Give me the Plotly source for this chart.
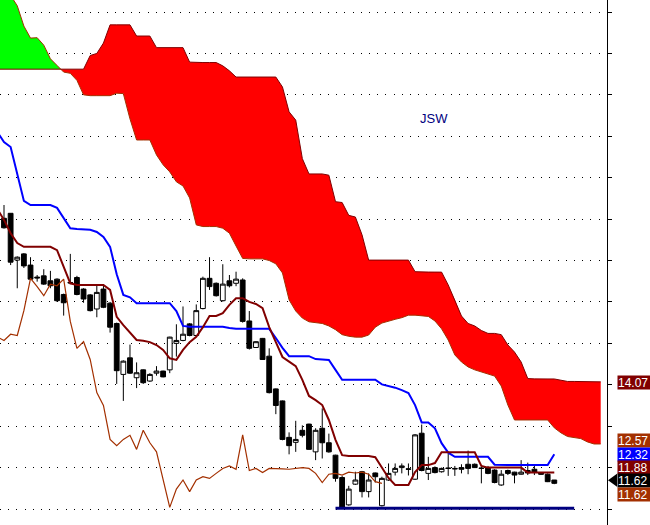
import plotly.graph_objects as go

# ---------------- data ----------------
title_text = "JSW"

# candles, bar index 0..83
open_ = [18.02, 18.14, 17.01, 17.16, 16.89, 16.60, 16.63, 16.51, 16.55, 16.18,
         16.47, 16.59, 16.31, 16.17, 15.83, 16.31, 15.97, 15.48, 14.25, 14.65,
         14.17, 14.36, 14.09, 14.28, 14.33, 14.36, 15.00, 15.07, 15.47, 15.19,
         15.84, 16.57, 16.45, 16.03, 16.51, 16.45, 16.53, 15.54, 14.90, 15.12,
         14.69, 13.90, 13.61, 12.73, 12.61, 12.90, 13.05, 12.38, 12.95, 12.60,
         12.30, 11.76, 11.10, 11.60, 11.90, 11.42, 11.87, 11.08, 11.70, 11.89,
         12.00, 11.97, 11.72, 12.83, 11.86, 12.00, 11.90, 11.99, 11.98, 12.00,
         12.08, 12.08, 11.99, 12.00, 11.94, 11.58, 11.93, 11.89, 11.84, 11.93,
         11.96, 11.87, 11.84, 11.70]
high = [18.34, 18.14, 17.10, 17.18, 17.08, 16.65, 16.79, 16.75, 16.57, 16.20,
        17.16, 16.63, 16.33, 16.19, 16.43, 16.43, 16.00, 15.50, 14.59, 14.97,
        14.54, 14.37, 14.28, 14.45, 14.34, 15.16, 15.46, 15.89, 15.49, 15.94,
        16.61, 17.08, 16.47, 16.91, 16.65, 16.73, 16.57, 15.78, 15.05, 15.13,
        14.88, 13.91, 13.62, 12.85, 13.13, 13.02, 13.06, 12.95, 13.43, 12.82,
        12.31, 11.80, 11.56, 11.90, 11.92, 11.86, 11.88, 11.78, 12.10, 12.10,
        12.10, 12.10, 12.81, 13.04, 12.26, 12.03, 12.00, 12.34, 12.04, 12.08,
        12.41, 12.10, 12.02, 12.04, 11.96, 11.94, 11.95, 11.90, 12.18, 12.12,
        12.04, 11.88, 11.86, 11.70]
low = [17.77, 16.89, 16.33, 16.82, 16.53, 16.49, 16.41, 16.33, 16.00, 15.67,
       16.43, 16.16, 15.98, 15.77, 15.63, 15.85, 15.26, 14.02, 13.61, 14.26,
       13.92, 14.02, 14.07, 14.22, 14.18, 14.28, 14.68, 15.05, 15.17, 15.17,
       15.82, 16.29, 16.13, 16.01, 16.35, 16.38, 15.50, 14.85, 14.89, 14.60,
       13.79, 13.29, 12.66, 12.32, 12.38, 12.73, 12.43, 12.18, 12.22, 12.36,
       11.66, 11.02, 11.08, 11.58, 11.28, 11.28, 11.64, 11.06, 11.68, 11.81,
       11.86, 11.81, 11.70, 11.91, 11.70, 11.86, 11.88, 11.80, 11.80, 11.86,
       11.84, 11.99, 11.62, 11.84, 11.62, 11.56, 11.82, 11.62, 11.83, 11.82,
       11.82, 11.83, 11.65, 11.60]
close = [17.79, 16.96, 17.08, 16.87, 16.55, 16.58, 16.43, 16.39, 16.03, 15.98,
         16.46, 16.18, 16.07, 15.79, 16.23, 15.87, 15.39, 14.34, 14.57, 14.28,
         14.29, 14.05, 14.25, 14.33, 14.19, 15.15, 15.07, 15.22, 15.19, 15.79,
         16.57, 16.37, 16.15, 16.43, 16.39, 16.55, 15.53, 14.88, 15.04, 14.61,
         13.81, 13.50, 12.68, 12.53, 12.68, 12.78, 12.44, 12.90, 12.60, 12.38,
         11.74, 11.04, 11.48, 11.70, 11.42, 11.70, 11.78, 11.74, 11.86, 11.98,
         12.04, 11.96, 12.79, 11.93, 11.98, 11.88, 11.98, 11.98, 11.97, 11.96,
         11.98, 12.00, 11.98, 11.86, 11.64, 11.84, 11.86, 11.82, 11.89, 11.87,
         11.89, 11.84, 11.66, 11.62]

# conversion line (dark red), bar index -1..83
tenkan = [18.24, 17.98, 17.66, 17.42, 17.33, 17.33, 17.33, 17.33, 17.33, 17.25,
          16.87, 16.45, 16.41, 16.41, 16.41, 16.41, 16.41, 16.29, 15.64, 15.44,
          15.25, 15.08, 15.06, 15.03, 14.96, 14.84, 14.64, 14.60, 14.84, 15.03,
          15.16, 15.39, 15.66, 15.66, 15.73, 15.93, 16.09, 16.09, 16.00, 15.95,
          15.85, 15.39, 15.03, 14.67, 14.56, 14.45, 14.12, 13.73, 13.63, 13.51,
          13.15, 12.67, 12.30, 12.28, 12.28, 12.28, 12.28, 12.25, 11.99, 11.75,
          11.58, 11.58, 11.58, 11.89, 12.06, 12.06, 12.11, 12.37, 12.37, 12.37,
          12.37, 12.37, 12.37, 12.04, 12.00, 12.00, 12.00, 12.00, 12.00, 12.00,
          11.88, 11.88, 11.88, 11.88, 11.88]

# base line (blue), bar index -1..83
kijun = [20.10, 19.86, 19.74, 19.06, 18.44, 18.34, 18.34, 18.34, 18.34, 18.27,
         18.03, 17.78, 17.76, 17.75, 17.74, 17.69, 17.57, 17.33, 16.67, 16.17,
         16.11, 15.97, 15.97, 15.97, 15.97, 15.97, 15.97, 15.78, 15.42, 15.40,
         15.40, 15.40, 15.40, 15.40, 15.40, 15.37, 15.35, 15.35, 15.35, 15.35,
         15.35, 15.35, 15.13, 14.89, 14.69, 14.69, 14.69, 14.69, 14.62, 14.61,
         14.60, 14.36, 14.12, 14.12, 14.12, 14.12, 14.12, 14.12, 14.01, 13.97,
         13.93, 13.87, 13.80, 13.51, 13.09, 13.09, 12.95, 12.59, 12.36, 12.26,
         12.26, 12.26, 12.26, 12.26, 12.26, 12.07, 12.06, 12.06, 12.06, 12.06,
         12.06, 12.06, 12.06, 12.06, 12.32]

# leading span A, bar index -1..90
span_a = [23.80, 23.60, 23.40, 23.15, 22.66, 22.37, 22.38, 22.20, 21.87, 21.71,
          21.55, 21.52, 21.35, 21.00, 20.98, 20.98, 20.98, 20.98, 21.04, 21.03,
          20.42, 19.91, 19.91, 19.91, 19.55, 19.31, 19.14, 18.90, 18.80, 18.51,
          17.86, 17.82, 17.82, 17.82, 17.78, 17.66, 17.35, 17.05, 17.04, 17.04,
          17.04, 17.00, 16.92, 16.70, 16.05, 15.78, 15.61, 15.52, 15.50, 15.48,
          15.42, 15.33, 15.21, 15.17, 15.15, 15.15, 15.20, 15.39, 15.49, 15.54,
          15.58, 15.62, 15.68, 15.68, 15.67, 15.65, 15.54, 15.35, 15.08, 14.72,
          14.55, 14.43, 14.36, 14.31, 14.26, 14.21, 13.97, 13.51, 13.15, 13.15,
          13.15, 13.15, 13.15, 13.15, 12.96, 12.84, 12.75, 12.73, 12.70, 12.62,
          12.57, 12.57]

# leading span B, bar index -1..90
span_b = [21.62, 21.62, 21.62, 21.62, 21.62, 21.62, 21.62, 21.62, 21.62, 21.62,
          21.62, 21.62, 21.62, 21.62, 21.95, 22.00, 22.25, 22.69, 22.69, 22.69,
          22.69, 22.42, 22.42, 22.42, 22.14, 22.14, 22.14, 22.14, 22.14, 21.79,
          21.78, 21.78, 21.78, 21.78, 21.70, 21.58, 21.43, 21.43, 21.43, 21.43,
          21.43, 21.43, 21.43, 21.19, 20.59, 20.39, 19.46, 19.09, 19.09, 19.09,
          19.06, 18.42, 18.40, 18.09, 18.05, 17.62, 17.01, 17.01, 17.01, 17.01,
          17.01, 17.01, 17.01, 16.73, 16.72, 16.72, 16.72, 16.72, 16.41, 16.05,
          15.66, 15.48, 15.42, 15.31, 15.24, 15.24, 15.21, 14.96, 14.79, 14.55,
          14.15, 14.14, 14.14, 14.14, 14.14, 14.11, 14.08, 14.08, 14.08, 14.07,
          14.07, 14.07]

# lagging span (brown), bar index -1..57
chikou = [15.15, 15.07, 15.22, 15.19, 15.79, 16.57, 16.37, 16.15, 16.43, 16.39,
          16.55, 15.53, 14.88, 15.04, 14.61, 13.81, 13.50, 12.68, 12.53, 12.68,
          12.78, 12.44, 12.90, 12.60, 12.38, 11.74, 11.04, 11.48, 11.70, 11.42,
          11.70, 11.78, 11.74, 11.86, 11.98, 12.04, 11.96, 12.79, 11.93, 11.98,
          11.88, 11.98, 11.98, 11.97, 11.96, 11.98, 12.00, 11.98, 11.86, 11.64,
          11.84, 11.86, 11.82, 11.89, 11.87, 11.89, 11.84, 11.66, 11.62]

support_level = 11.02
support_bars = [50, 86]

grid_levels = list(range(11, 24))

# ---------------- styling ----------------
C_TENKAN = "#800000"
C_KIJUN = "#0000FF"
C_CHIKOU = "#A33000"
C_SPAN_A = "#A33000"
C_SPAN_B = "#800000"
FONT = "Liberation Sans, Arial, sans-serif"

bars_candle = list(range(len(close)))
bars_line = list(range(-1, len(tenkan) - 1))
bars_cloud = list(range(-1, len(span_a) - 1))
bars_chikou = list(range(-1, len(chikou) - 1))

fig = go.Figure()

# cloud polygons, split where the spans cross
def cloud_segments(xs, a, b):
    segs = []
    sign = a[0] >= b[0]
    cx, ca, cb = [xs[0]], [a[0]], [b[0]]
    for k in range(1, len(xs)):
        s = a[k] >= b[k]
        if s != sign:
            d0 = a[k - 1] - b[k - 1]
            d1 = a[k] - b[k]
            t = d0 / (d0 - d1)
            xc = xs[k - 1] + t * (xs[k] - xs[k - 1])
            yc = a[k - 1] + t * (a[k] - a[k - 1])
            cx.append(xc); ca.append(yc); cb.append(yc)
            segs.append((sign, cx, ca, cb))
            cx, ca, cb = [xc], [yc], [yc]
            sign = s
        cx.append(xs[k]); ca.append(a[k]); cb.append(b[k])
    segs.append((sign, cx, ca, cb))
    return segs

for up, sx, sa, sb in cloud_segments(bars_cloud, span_a, span_b):
    fig.add_trace(go.Scatter(
        x=sx + sx[::-1], y=sa + sb[::-1], mode="lines", fill="toself",
        fillcolor="#00FF00" if up else "#FF0000", line=dict(width=0),
        hoverinfo="skip"))

fig.add_trace(go.Scatter(x=bars_cloud, y=span_a, mode="lines",
                         line=dict(color=C_SPAN_A, width=1)))
fig.add_trace(go.Scatter(x=bars_cloud, y=span_b, mode="lines",
                         line=dict(color=C_SPAN_B, width=1)))

fig.add_trace(go.Candlestick(
    x=bars_candle, open=open_, high=high, low=low, close=close,
    increasing=dict(line=dict(color="black", width=1), fillcolor="white"),
    decreasing=dict(line=dict(color="black", width=1), fillcolor="black"),
    whiskerwidth=0))

fig.add_trace(go.Scatter(x=bars_chikou, y=chikou, mode="lines",
                         line=dict(color=C_CHIKOU, width=1.2)))
fig.add_trace(go.Scatter(x=bars_line, y=kijun, mode="lines",
                         line=dict(color=C_KIJUN, width=2)))
fig.add_trace(go.Scatter(x=bars_line, y=tenkan, mode="lines",
                         line=dict(color=C_TENKAN, width=2)))
fig.add_trace(go.Scatter(x=support_bars, y=[support_level, support_level],
                         mode="lines", line=dict(color="#000080", width=3)))

# value labels on the right
labels = [
    (span_b[-1], C_SPAN_B, -1),
    (span_a[-1], C_SPAN_A, 3),
    (kijun[-1], C_KIJUN, 0),
    (tenkan[-1], C_TENKAN, 5),
    (close[-1], "black", 3),
    (chikou[-1], C_CHIKOU, -11),
]
for val, col, shift in labels:
    fig.add_annotation(
        xref="paper", x=1, xanchor="left", xshift=10,
        yref="y", y=val, yanchor="middle", yshift=shift,
        text=f"{val:.2f}", showarrow=False, bgcolor=col,
        font=dict(color="white", size=12, family=FONT),
        width=33, height=13, borderpad=0, align="left")

fig.add_shape(type="path", xref="paper", xsizemode="pixel", xanchor=1,
              yref="y", ysizemode="pixel", yanchor=close[-1],
              path="M 1 3 L 10 9.5 L 10 -3.5 Z",
              fillcolor="black", line=dict(width=0))

fig.add_annotation(xref="paper", yref="paper", x=0.7145, y=0.7747,
                   xanchor="center", yanchor="middle",
                   text=title_text, showarrow=False,
                   font=dict(color="#000080", size=13, family=FONT))

fig.update_layout(
    width=650, height=525,
    margin=dict(l=0, r=43, t=0, b=0),
    paper_bgcolor="white", plot_bgcolor="white",
    showlegend=False,
    boxgap=0.15, boxgroupgap=0.15,
    xaxis=dict(range=[-0.603, 90.95], visible=False,
               rangeslider=dict(visible=False), fixedrange=True),
    yaxis=dict(range=[10.614, 23.29], side="right", tickvals=grid_levels,
               showticklabels=False, ticks="outside", ticklen=4,
               tickcolor="black", showline=True, linecolor="black",
               linewidth=1, showgrid=True, gridcolor="black", gridwidth=1,
               griddash="1px,7.2px", zeroline=False, fixedrange=True),
)

fig.write_html("out.html", config={"displayModeBar": False},
               post_script="document.body.style.margin='0px';")
